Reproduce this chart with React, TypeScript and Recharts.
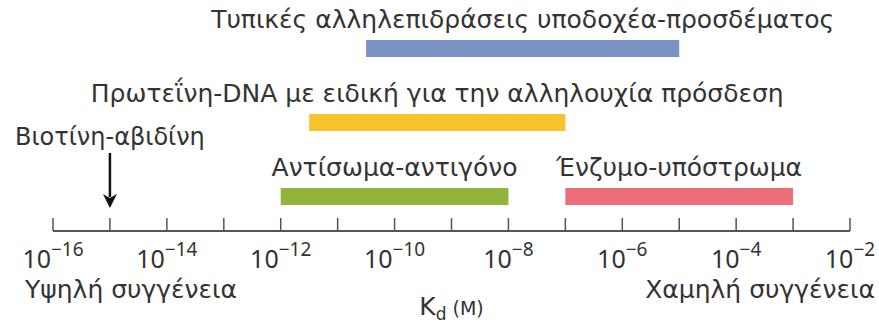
import React from 'react';
import { ComposedChart, Bar, XAxis, YAxis, Cell, LabelList, ReferenceDot } from 'recharts';

// interaction classes, Kd ranges as powers of ten
const names = [
  'Τυπικές αλληλεπιδράσεις υποδοχέα-προσδέματος',
  'Πρωτεΐνη-DNA με ειδική για την αλληλουχία πρόσδεση',
  'Αντίσωμα-αντιγόνο',
  'Ένζυμο-υπόστρωμα',
];
const lowExp = [-10.5, -11.5, -12, -7];
const highExp = [-5, -7, -8, -3];
const rows = [3, 2, 1, 1];
const colors = ['#7892c3', '#f8c22d', '#93b43a', '#ec6e7a'];

const tickExps = [-16, -15, -14, -13, -12, -11, -10, -9, -8, -7, -6, -5, -4, -3, -2];

const biotinName = 'Βιοτίνη-αβιδίνη';
const biotinExp = -15;
const biotinRow = 1;

const FONT = '"DejaVu Sans", sans-serif';
const NUM_FONT = '"Noto Sans", sans-serif';
const TEXT = '#333';

const data = names.map((name, i) => ({ name, row: rows[i], range: [lowExp[i], highExp[i]] }));

const PowerTick = (props: any) => {
  const { x, y, payload } = props;
  const v = payload.value;
  return (
    <g>
      <line x1={x} x2={x} y1={y} y2={y - 13} stroke="#555" strokeWidth={1.5} />
      {v % 2 === 0 && (
        <text x={x} y={y + 37} textAnchor="middle" fill={TEXT} fontFamily={NUM_FONT}>
          <tspan fontSize={25}>10</tspan>
          <tspan fontSize={19} dy={-12}>{'\u2212' + Math.abs(v)}</tspan>
        </text>
      )}
    </g>
  );
};

const BarName = (props: any) => {
  const { x, y, width, value } = props;
  return (
    <text x={x + width / 2} y={y - 12} textAnchor="middle" fontSize={25} fontFamily={FONT} fill={TEXT}>
      {value}
    </text>
  );
};

const AxisCaption = (props: any) => {
  const { x, y, width } = props.viewBox;
  return (
    <g fontFamily={FONT} fill={TEXT}>
      <text x={x - 28} y={y + 67} fontSize={25} textAnchor="start">Υψηλή συγγένεια</text>
      <text x={x + width + 25} y={y + 67} fontSize={25} textAnchor="end">Χαμηλή συγγένεια</text>
      <text x={x + width / 2} y={y + 84} textAnchor="middle">
        <tspan fontSize={25}>K</tspan>
        <tspan fontSize={17} dy={5}>d</tspan>
        <tspan fontSize={19} dy={-5}>{' (M)'}</tspan>
      </text>
    </g>
  );
};

const ArrowMark = (props: any) => {
  const { cx, cy } = props;
  return (
    <g>
      <line x1={cx} x2={cx} y1={cy - 44} y2={cy} stroke="#111" strokeWidth={2.5} />
      <path d={`M ${cx - 7} ${cy - 3} L ${cx} ${cy + 1} L ${cx + 7} ${cy - 3} L ${cx} ${cy + 11} Z`} fill="#111" />
      <text x={cx} y={cy - 52} textAnchor="middle" fontSize={24} fontFamily={FONT} fill={TEXT}>
        {biotinName}
      </text>
    </g>
  );
};

export default function App() {
  return (
    <div>
      <style>{'body{margin:0}'}</style>
      <ComposedChart
        width={879}
        height={327}
        layout="vertical"
        data={data}
        margin={{ top: 12, right: 29, bottom: 0, left: 53 }}
      >
        <XAxis
          type="number"
          domain={[-16, -2]}
          ticks={tickExps}
          interval={0}
          tickLine={false}
          tickSize={0}
          tickMargin={0}
          height={96}
          axisLine={{ stroke: '#555', strokeWidth: 2 }}
          tick={<PowerTick />}
          label={<AxisCaption />}
          allowDataOverflow
        />
        <YAxis type="number" dataKey="row" domain={[0.54, 3.5]} ticks={[1, 2, 3]} reversed hide allowDataOverflow />
        <Bar dataKey="range" barSize={17} isAnimationActive={false}>
          {data.map((d, i) => (
            <Cell key={d.name} fill={colors[i]} />
          ))}
          <LabelList dataKey="name" content={<BarName />} />
        </Bar>
        <ReferenceDot x={biotinExp} y={biotinRow} ifOverflow="visible" shape={<ArrowMark />} />
      </ComposedChart>
    </div>
  );
}
